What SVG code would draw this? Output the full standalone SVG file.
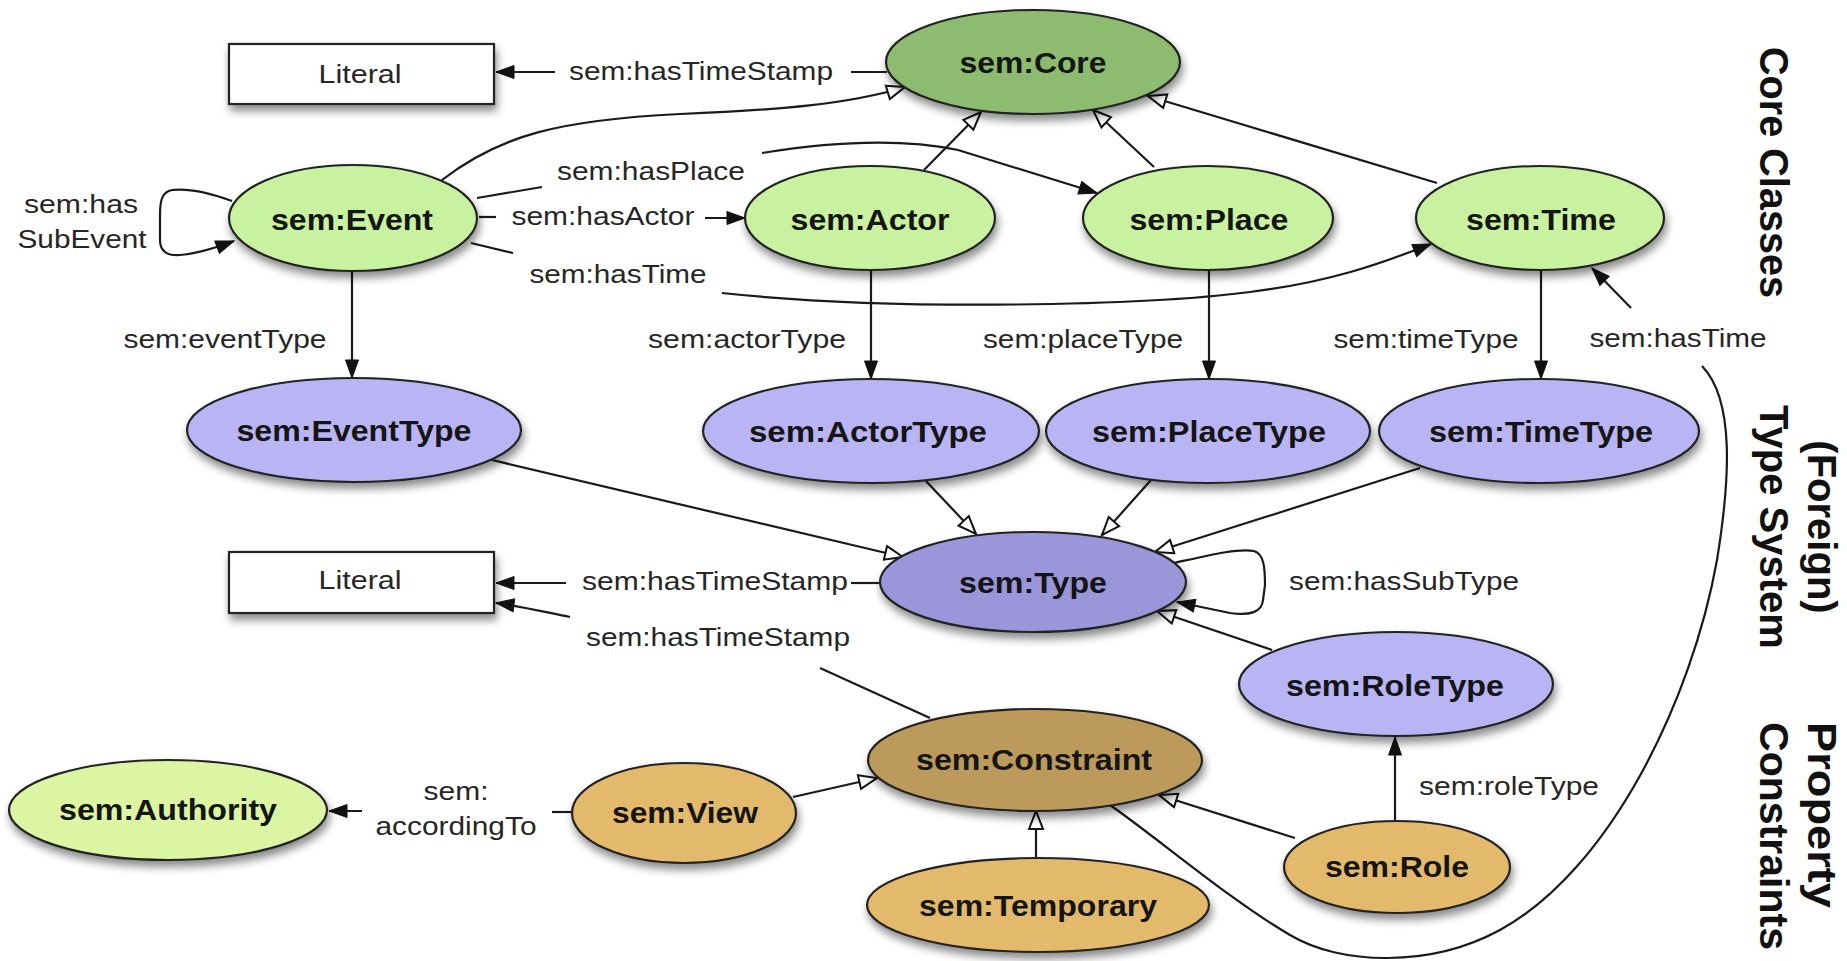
<svg xmlns="http://www.w3.org/2000/svg" width="1847" height="961" viewBox="0 0 1847 961">
<defs>
<filter id="sh" x="-20%" y="-30%" width="140%" height="180%">
<feDropShadow dx="2" dy="6" stdDeviation="4" flood-color="#000" flood-opacity="0.45"/>
</filter>
<marker id="fa" markerUnits="userSpaceOnUse" markerWidth="20" markerHeight="16" viewBox="0 0 20 16" refX="19" refY="8" orient="auto">
<path d="M1,1.5 L19,8 L1,14.5 Z" fill="#111" stroke="#111" stroke-width="1"/>
</marker>
<marker id="ha" markerUnits="userSpaceOnUse" markerWidth="22" markerHeight="18" viewBox="0 0 22 18" refX="20" refY="9" orient="auto">
<path d="M2,2 L20,9 L2,16 Z" fill="#fff" stroke="#111" stroke-width="2"/>
</marker>
</defs>
<style>
.n{stroke:#222;stroke-width:2.2;filter:url(#sh)}
.nl{font-family:"Liberation Sans",Arial,Helvetica,sans-serif;font-weight:bold;font-size:29px;fill:#151515;text-anchor:middle}
.el{font-family:"Liberation Sans",Arial,Helvetica,sans-serif;font-size:25px;fill:#262626;text-anchor:middle}
.sl{font-family:"Liberation Sans",Arial,Helvetica,sans-serif;font-weight:bold;font-size:40px;fill:#111}
.c{fill:none;stroke:#1a1a1a;stroke-width:2.2}
.core{fill:#8dbc6f}
.cls{fill:#c9f2a0}
.auth{fill:#dbf5a3}
.typ{fill:#b9b4f4}
.typc{fill:#9b95d9}
.cons{fill:#bb9a5b}
.pc{fill:#e3ba6c}
.lit{fill:#fff}
</style>
<rect width="1847" height="961" fill="#fff"/>

<g id="connectors">
<!-- Core hasTimeStamp -> Literal -->
<path class="c" d="M887,72 L851,72"/>
<path class="c" d="M555,72 L496,72" marker-end="url(#fa)"/>
<text class="el" x="701" y="80" textLength="264" lengthAdjust="spacingAndGlyphs">sem:hasTimeStamp</text>
<!-- Event subclass of Core -->
<path class="c" d="M442,180 C500,135 560,120 680,114 C780,110 850,104 905,87" marker-end="url(#ha)"/>
<!-- hasPlace -->
<path class="c" d="M477,198 L542,187"/>
<path class="c" d="M762,153 C830,142 900,138 958,150 L1097,193" marker-end="url(#fa)"/>
<text class="el" x="651" y="180" textLength="188" lengthAdjust="spacingAndGlyphs">sem:hasPlace</text>
<!-- hasActor -->
<path class="c" d="M479,217 L496,217"/>
<path class="c" d="M705,218 L745,218" marker-end="url(#fa)"/>
<text class="el" x="603" y="225" textLength="183" lengthAdjust="spacingAndGlyphs">sem:hasActor</text>
<!-- hasTime (Event -> Time) -->
<path class="c" d="M471,243 L513,253"/>
<path class="c" d="M722,293 C900,312 1150,305 1250,292 C1330,282 1380,264 1431,244" marker-end="url(#fa)"/>
<text class="el" x="618" y="283" textLength="177" lengthAdjust="spacingAndGlyphs">sem:hasTime</text>
<!-- hasSubEvent loop -->
<path class="c" d="M232,201 C210,193 190,188 172,190 C162,192 160,200 160,215 L160,240 C160,252 168,256 180,255 C195,254 215,248 234,241" marker-end="url(#fa)"/>
<text class="el" x="81" y="213" textLength="114" lengthAdjust="spacingAndGlyphs">sem:has</text>
<text class="el" x="82" y="248" textLength="129" lengthAdjust="spacingAndGlyphs">SubEvent</text>
<!-- Actor/Place/Time subclass of Core -->
<path class="c" d="M924,170 L981,112" marker-end="url(#ha)"/>
<path class="c" d="M1154,167 L1093,110" marker-end="url(#ha)"/>
<path class="c" d="M1437,183 L1148,96" marker-end="url(#ha)"/>
<!-- type properties -->
<path class="c" d="M352,272 L352,378" marker-end="url(#fa)"/>
<text class="el" x="225" y="348" textLength="203" lengthAdjust="spacingAndGlyphs">sem:eventType</text>
<path class="c" d="M871,271 L871,379" marker-end="url(#fa)"/>
<text class="el" x="747" y="348" textLength="198" lengthAdjust="spacingAndGlyphs">sem:actorType</text>
<path class="c" d="M1209,271 L1209,379" marker-end="url(#fa)"/>
<text class="el" x="1083" y="348" textLength="200" lengthAdjust="spacingAndGlyphs">sem:placeType</text>
<path class="c" d="M1541,271 L1541,379" marker-end="url(#fa)"/>
<text class="el" x="1426" y="348" textLength="185" lengthAdjust="spacingAndGlyphs">sem:timeType</text>
<!-- hasTime (Constraint -> Time) -->
<path class="c" d="M1631,308 L1592,268" marker-end="url(#fa)"/>
<text class="el" x="1678" y="347" textLength="177" lengthAdjust="spacingAndGlyphs">sem:hasTime</text>
<path class="c" d="M1110,805 C1160,840 1230,900 1290,935 C1340,965 1430,968 1500,930 C1610,870 1692,700 1717,560 C1730,480 1735,400 1702,366"/>
<!-- types subclass of Type -->
<path class="c" d="M492,460 L903,557" marker-end="url(#ha)"/>
<path class="c" d="M925,480 L976,534" marker-end="url(#ha)"/>
<path class="c" d="M1151,480 L1102,535" marker-end="url(#ha)"/>
<path class="c" d="M1420,468 L1155,552" marker-end="url(#ha)"/>
<path class="c" d="M1272,650 L1157,611" marker-end="url(#ha)"/>
<!-- hasSubType loop -->
<path class="c" d="M1174,563 C1210,555 1238,548 1254,551 C1264,554 1265,568 1265,585 L1263,600 C1262,612 1250,616 1230,613 L1177,602" marker-end="url(#fa)"/>
<text class="el" x="1404" y="590" textLength="230" lengthAdjust="spacingAndGlyphs">sem:hasSubType</text>
<!-- Type hasTimeStamp -> Literal -->
<path class="c" d="M881,583 L851,583"/>
<path class="c" d="M566,583 L496,583" marker-end="url(#fa)"/>
<text class="el" x="715" y="590" textLength="266" lengthAdjust="spacingAndGlyphs">sem:hasTimeStamp</text>
<!-- Constraint hasTimeStamp -> Literal -->
<path class="c" d="M930,718 L820,668"/>
<path class="c" d="M570,617 C545,612 520,606 496,603" marker-end="url(#fa)"/>
<text class="el" x="718" y="646" textLength="264" lengthAdjust="spacingAndGlyphs">sem:hasTimeStamp</text>
<!-- View subclass of Constraint -->
<path class="c" d="M793,797 L877,778" marker-end="url(#ha)"/>
<!-- accordingTo -->
<path class="c" d="M573,812 L552,812"/>
<path class="c" d="M362,811 L329,811" marker-end="url(#fa)"/>
<text class="el" x="456" y="800" textLength="65" lengthAdjust="spacingAndGlyphs">sem:</text>
<text class="el" x="456" y="835" textLength="161" lengthAdjust="spacingAndGlyphs">accordingTo</text>
<!-- Temporary, Role subclass of Constraint -->
<path class="c" d="M1036,858 L1036,811" marker-end="url(#ha)"/>
<path class="c" d="M1295,838 L1159,795" marker-end="url(#ha)"/>
<!-- roleType -->
<path class="c" d="M1395,821 L1395,737" marker-end="url(#fa)"/>
<text class="el" x="1509" y="795" textLength="180" lengthAdjust="spacingAndGlyphs">sem:roleType</text>
</g>

<g id="node-literal-top">
<rect class="n lit" x="229" y="44" width="265" height="60"/>
<text class="el" x="360" y="83" textLength="83" lengthAdjust="spacingAndGlyphs">Literal</text>
</g>
<g id="node-core">
<ellipse class="n core" cx="1033" cy="62" rx="147" ry="52"/>
<text class="nl" x="1033" y="73" textLength="147" lengthAdjust="spacingAndGlyphs">sem:Core</text>
</g>
<g id="node-event">
<ellipse class="n cls" cx="353" cy="218" rx="124" ry="53"/>
<text class="nl" x="352" y="230" textLength="162" lengthAdjust="spacingAndGlyphs">sem:Event</text>
</g>
<g id="node-actor">
<ellipse class="n cls" cx="870" cy="218" rx="125" ry="52"/>
<text class="nl" x="870" y="230" textLength="159" lengthAdjust="spacingAndGlyphs">sem:Actor</text>
</g>
<g id="node-place">
<ellipse class="n cls" cx="1208" cy="218" rx="125" ry="52"/>
<text class="nl" x="1209" y="230" textLength="159" lengthAdjust="spacingAndGlyphs">sem:Place</text>
</g>
<g id="node-time">
<ellipse class="n cls" cx="1540" cy="218" rx="124" ry="52"/>
<text class="nl" x="1541" y="230" textLength="150" lengthAdjust="spacingAndGlyphs">sem:Time</text>
</g>
<g id="node-eventtype">
<ellipse class="n typ" cx="354" cy="430" rx="167" ry="52"/>
<text class="nl" x="354" y="441" textLength="235" lengthAdjust="spacingAndGlyphs">sem:EventType</text>
</g>
<g id="node-actortype">
<ellipse class="n typ" cx="871" cy="431" rx="168" ry="52"/>
<text class="nl" x="868" y="442" textLength="238" lengthAdjust="spacingAndGlyphs">sem:ActorType</text>
</g>
<g id="node-placetype">
<ellipse class="n typ" cx="1208" cy="431" rx="162" ry="52"/>
<text class="nl" x="1209" y="442" textLength="234" lengthAdjust="spacingAndGlyphs">sem:PlaceType</text>
</g>
<g id="node-timetype">
<ellipse class="n typ" cx="1539" cy="431" rx="160" ry="52"/>
<text class="nl" x="1541" y="442" textLength="224" lengthAdjust="spacingAndGlyphs">sem:TimeType</text>
</g>
<g id="node-type">
<ellipse class="n typc" cx="1033" cy="582" rx="153" ry="50"/>
<text class="nl" x="1033" y="593" textLength="148" lengthAdjust="spacingAndGlyphs">sem:Type</text>
</g>
<g id="node-literal-bottom">
<rect class="n lit" x="229" y="552" width="265" height="61"/>
<text class="el" x="360" y="589" textLength="83" lengthAdjust="spacingAndGlyphs">Literal</text>
</g>
<g id="node-roletype">
<ellipse class="n typ" cx="1396" cy="684" rx="157" ry="52"/>
<text class="nl" x="1395" y="696" textLength="218" lengthAdjust="spacingAndGlyphs">sem:RoleType</text>
</g>
<g id="node-constraint">
<ellipse class="n cons" cx="1035" cy="760" rx="167" ry="51"/>
<text class="nl" x="1034" y="770" textLength="236" lengthAdjust="spacingAndGlyphs">sem:Constraint</text>
</g>
<g id="node-authority">
<ellipse class="n auth" cx="168" cy="810" rx="159" ry="50"/>
<text class="nl" x="168" y="820" textLength="218" lengthAdjust="spacingAndGlyphs">sem:Authority</text>
</g>
<g id="node-view">
<ellipse class="n pc" cx="684" cy="813" rx="112" ry="50"/>
<text class="nl" x="685" y="823" textLength="146" lengthAdjust="spacingAndGlyphs">sem:View</text>
</g>
<g id="node-role">
<ellipse class="n pc" cx="1397" cy="867" rx="113" ry="46"/>
<text class="nl" x="1397" y="877" textLength="144" lengthAdjust="spacingAndGlyphs">sem:Role</text>
</g>
<g id="node-temporary">
<ellipse class="n pc" cx="1038" cy="905" rx="171" ry="47"/>
<text class="nl" x="1038" y="916" textLength="238" lengthAdjust="spacingAndGlyphs">sem:Temporary</text>
</g>

<g id="section-labels">
<text class="sl" transform="translate(1760,47) rotate(90)" textLength="251" lengthAdjust="spacingAndGlyphs">Core Classes</text>
<text class="sl" transform="translate(1808,527) rotate(90)" text-anchor="middle">(Foreign)</text>
<text class="sl" transform="translate(1760,527) rotate(90)" text-anchor="middle">Type System</text>
<text class="sl" transform="translate(1808,722) rotate(90)" textLength="186" lengthAdjust="spacingAndGlyphs">Property</text>
<text class="sl" transform="translate(1760,722) rotate(90)" textLength="228" lengthAdjust="spacingAndGlyphs">Constraints</text>
</g>
</svg>
